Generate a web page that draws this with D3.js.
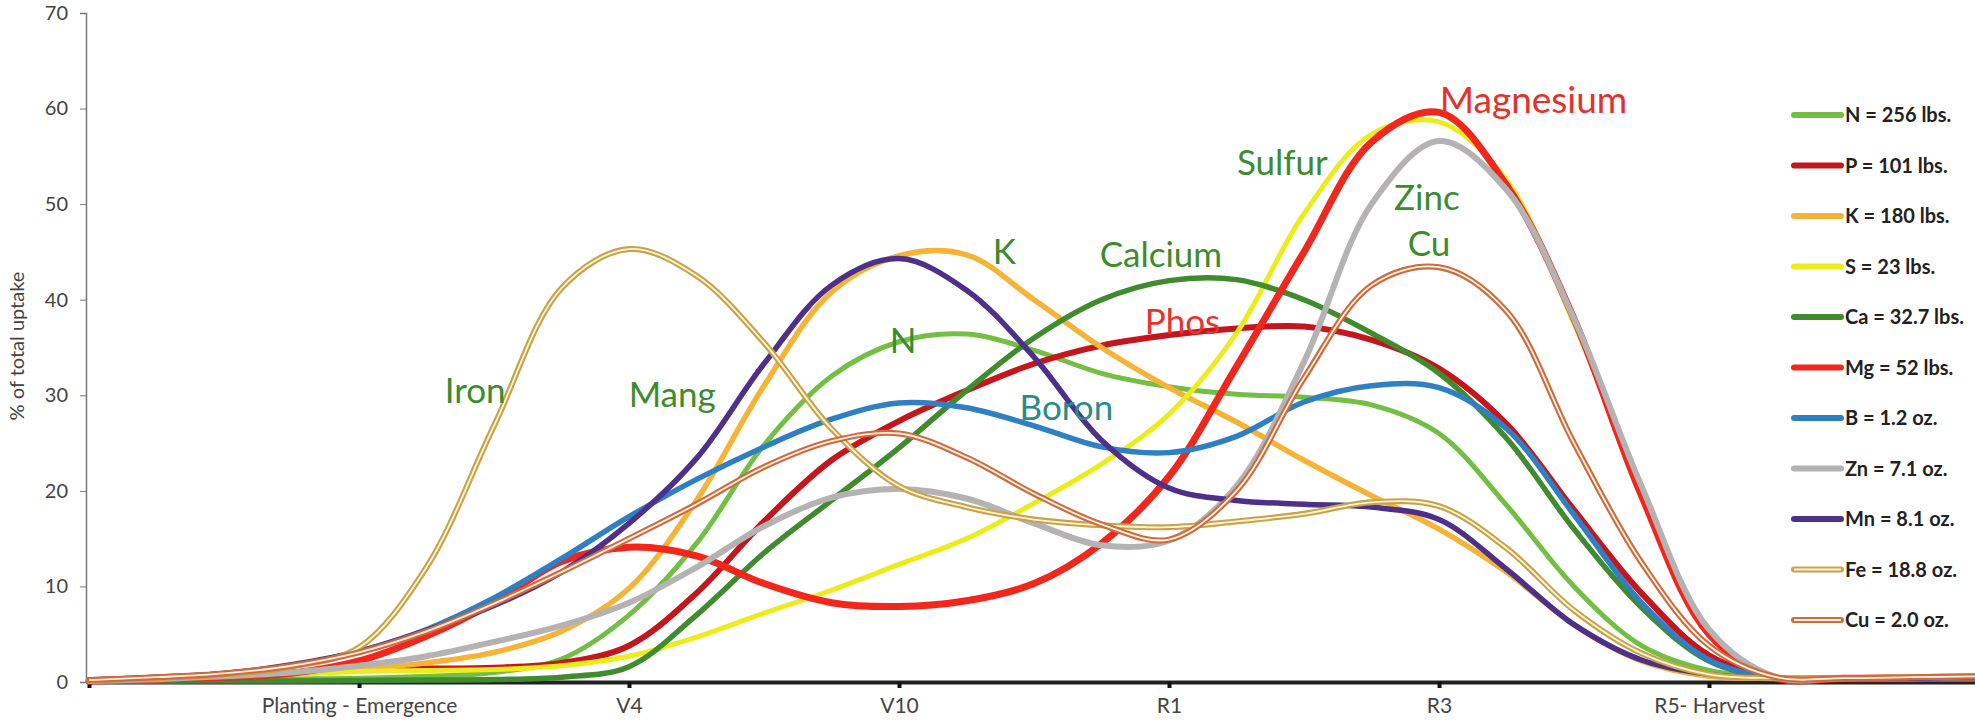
<!DOCTYPE html>
<html>
<head>
<meta charset="utf-8">
<script src="https://cdn.jsdelivr.net/npm/d3@7"></script>
<style>
  body { margin: 0; background: #fff; }
  svg { display: block; font-family: Lato, "Open Sans", sans-serif; }
</style>
</head>
<body>
<svg width="1975" height="724"></svg>
<script>
const width = 1975, height = 724;

// x positions of the readings, in growth-stage units (1 = Planting-Emergence ... 6 = R5)
const stages = [0, 0.25, 0.5, 0.75, 1, 1.25, 1.5, 1.75, 2, 2.25, 2.5, 2.75, 3, 3.25, 3.5,
  3.75, 4, 4.25, 4.5, 4.75, 5, 5.25, 5.5, 5.75, 6, 6.25, 6.5, 6.75, 7];
const stageTicks = [0, 1, 2, 3, 4, 5, 6];
const stageLabels = ["", "Planting - Emergence", "V4", "V10", "R1", "R3", "R5- Harvest"];
const yTicks = [0, 10, 20, 30, 40, 50, 60, 70];

// % of total uptake
const nVals  = [0.1, 0.1, 0.2, 0.3, 0.4, 0.6, 1.0, 2.4, 7.0, 14.5, 24.8, 32, 35.6, 36.4, 34.7, 32.3, 30.9, 30.1, 29.8, 29, 26, 18.5, 10, 3.8, 1.2, 0.4, 0.4, 0.4, 0.5];
const pVals  = [0.1, 0.3, 0.6, 1.0, 1.3, 1.4, 1.5, 2.0, 3.8, 9.3, 16.8, 23.2, 27.3, 30.5, 33.3, 35.2, 36.3, 37, 37.2, 35.8, 32.8, 27, 18, 9.3, 2.8, 0.4, 0.3, 0.3, 0.4];
const kVals  = [0.1, 0.2, 0.4, 0.8, 1.3, 2.0, 3.1, 5.3, 9.8, 19, 31, 40.8, 44.6, 44.7, 40, 35, 30.8, 27.2, 23.2, 19.5, 16, 11.5, 6, 2.2, 0.6, 0.4, 0.4, 0.5, 0.5];
const sVals  = [0.1, 0.2, 0.4, 0.8, 1.1, 1.2, 1.3, 1.7, 2.7, 4.7, 7.2, 9.6, 12.3, 15, 18.7, 22.8, 28, 36.5, 49, 57.3, 58.6, 52.5, 37.5, 20.5, 5.5, 0.5, 0.4, 0.4, 0.5];
const caVals = [0.1, 0.1, 0.1, 0.1, 0.15, 0.2, 0.25, 0.5, 1.6, 7, 13.5, 19, 24.5, 30.5, 36, 40, 42, 42.1, 40, 36.5, 32.3, 25.5, 16, 7.8, 2.2, 0.4, 0.3, 0.3, 0.3];
const mgVals = [0.1, 0.3, 0.5, 0.9, 2.2, 4.8, 8.3, 12.6, 14.1, 13.2, 10.3, 8.3, 7.9, 8.5, 10.3, 14.5, 21.5, 33, 45, 56.5, 59.6, 52, 38, 19.5, 5, 0.4, 0.4, 0.4, 0.5];
const bVals  = [0.2, 0.5, 0.9, 1.7, 3.2, 5.5, 8.8, 12.9, 17.3, 21.2, 24.6, 27.5, 29.2, 28.7, 26.8, 24.6, 24, 25.7, 29.3, 31, 30.8, 26.5, 17.5, 8.3, 2.3, 0.4, 0.4, 0.4, 0.5];
const znVals = [0.1, 0.3, 0.6, 1.0, 1.7, 2.7, 4.2, 5.9, 8.3, 12, 16.3, 19.3, 20.2, 19.2, 16.6, 14.3, 14.8, 20.5, 33.5, 50, 56.6, 51.5, 38, 20.5, 5.5, 0.5, 0.4, 0.4, 0.5];
const mnVals = [0.2, 0.5, 0.9, 1.8, 3.2, 5.4, 8.0, 11.5, 16.6, 23.4, 33.3, 41.5, 44.3, 41, 34, 25.3, 20.3, 19, 18.6, 18.3, 17, 11.8, 6, 2.3, 0.8, 0.4, 0.4, 0.4, 0.5];
const feVals = [0.2, 0.4, 0.8, 1.6, 3.6, 12, 26.8, 41.2, 45.3, 42.5, 35.5, 26.5, 20.5, 18.3, 17, 16.4, 16.2, 16.8, 17.6, 18.8, 18.4, 14, 7.5, 3, 0.8, 0.4, 0.4, 0.5, 0.6];
const cuVals = [0.2, 0.5, 0.9, 1.7, 3.1, 5.3, 8.2, 11.5, 15, 18.6, 22.5, 25.2, 26, 23.5, 19.7, 16.5, 14.9, 20, 31.8, 41.5, 43.4, 38.8, 25, 12.5, 3.8, 0.5, 0.4, 0.5, 0.6];

const keys = ["N", "P", "K", "S", "Ca", "Mg", "B", "Zn", "Mn", "Fe", "Cu"];
const seriesValues = [nVals, pVals, kVals, sVals, caVals, mgVals, bVals, znVals, mnVals, feVals, cuVals];
const legendLabels = ["N = 256 lbs.", "P = 101 lbs.", "K = 180 lbs.", "S = 23 lbs.", "Ca = 32.7 lbs.",
  "Mg = 52 lbs.", "B = 1.2 oz.", "Zn = 7.1 oz.", "Mn = 8.1 oz.", "Fe = 18.8 oz.", "Cu = 2.0 oz."];

// curve names written on the plot: [text, stage, value]
const notes = [
  ["Iron", 1.43, 29.2], ["Mang", 2.16, 28.8], ["N", 3.015, 34.4], ["K", 3.39, 43.7],
  ["Calcium", 3.97, 43.4], ["Phos", 4.05, 36.4], ["Boron", 3.62, 27.4], ["Sulfur", 4.42, 53.1],
  ["Zinc", 4.955, 49.4], ["Cu", 4.963, 44.6], ["Magnesium", 5.35, 59.5]
];
const noteColor = { Phos: "#e8322b", Magnesium: "#e4322b", Boron: "#2b8a8c" };

const color = d3.scaleOrdinal()
  .domain(keys)
  .range(["#72bf44", "#c4161c", "#f6b436", "#ecec1c", "#3f8b2e", "#f1261c",
          "#2f80c3", "#b4b2b2", "#4e2f8a", "#c9a24a", "#cf6a3a"]);
const lineWidth = { N: 5, P: 6, K: 5.5, S: 5, Ca: 5.5, Mg: 7, B: 5.5, Zn: 6, Mn: 5.5, Fe: 6, Cu: 6 };
const innerColor = { Fe: "#fff6d8", Cu: "#fff3ea" };

const x = d3.scaleLinear().domain([0, 7]).range([89, 1979]);
const y = d3.scaleLinear().domain([0, 70]).range([682, 13]);

const svg = d3.select("svg");

// y axis
const yAxis = svg.append("g")
  .attr("transform", "translate(86,0)")
  .call(d3.axisLeft(y).tickValues(yTicks).tickSize(6).tickPadding(12));
yAxis.select(".domain").attr("stroke", "#777").attr("stroke-width", 1.5);
yAxis.selectAll(".tick line").attr("stroke", "#777");
yAxis.selectAll("text").attr("font-size", 20).attr("fill", "#444").attr("font-family", "Lato");

svg.append("text")
  .attr("transform", "translate(24,346) rotate(-90)")
  .attr("text-anchor", "middle")
  .attr("font-size", 20)
  .attr("fill", "#444")
  .text("% of total uptake");

// x axis
const xAxis = svg.append("g")
  .attr("transform", "translate(0,682)")
  .call(d3.axisBottom(x).tickValues(stageTicks).tickSize(6).tickSizeOuter(0).tickPadding(10)
    .tickFormat((d, i) => stageLabels[i]));
xAxis.select(".domain").attr("stroke", "#222").attr("stroke-width", 4);
xAxis.selectAll(".tick line").attr("stroke", "#111").attr("stroke-width", 4);
xAxis.selectAll("text").attr("font-size", 21).attr("fill", "#444").attr("font-family", "Lato");

// curves
const line = d3.line()
  .x((d, i) => x(stages[i]))
  .y(d => y(d))
  .curve(d3.curveCatmullRom.alpha(0.5));

const curves = svg.append("g")
  .selectAll("g")
  .data(keys)
  .enter().append("g");

curves.append("path")
  .attr("d", (k, i) => line(seriesValues[i]))
  .attr("fill", "none")
  .attr("stroke", k => color(k))
  .attr("stroke-width", k => lineWidth[k])
  .attr("stroke-linecap", "round");

curves.filter(k => innerColor[k])
  .append("path")
  .attr("d", k => line(seriesValues[keys.indexOf(k)]))
  .attr("fill", "none")
  .attr("stroke", k => innerColor[k])
  .attr("stroke-width", 1.8);

// names on the plot
svg.append("g")
  .selectAll("text")
  .data(notes)
  .enter().append("text")
  .attr("x", d => x(d[1]))
  .attr("y", d => y(d[2]))
  .attr("text-anchor", "middle")
  .attr("font-size", d => d[0] == "Magnesium" ? 37 : 35)
  .attr("fill", d => noteColor[d[0]] || "#3b8c2c")
  .text(d => d[0]);

// legend
const legend = svg.append("g")
  .selectAll("g")
  .data(keys)
  .enter().append("g")
  .attr("transform", (k, i) => "translate(1792," + (115 + i * 50.5) + ")");

legend.append("line")
  .attr("x1", 2).attr("x2", 49)
  .attr("stroke", k => color(k))
  .attr("stroke-width", 6)
  .attr("stroke-linecap", "round");

legend.filter(k => innerColor[k])
  .append("line")
  .attr("x1", 2).attr("x2", 49)
  .attr("stroke", k => innerColor[k])
  .attr("stroke-width", 2);

legend.append("text")
  .attr("x", 53)
  .attr("dy", "0.36em")
  .attr("font-size", 20)
  .attr("font-weight", "bold")
  .attr("fill", "#222")
  .text((k, i) => legendLabels[i]);
</script>
</body>
</html>
